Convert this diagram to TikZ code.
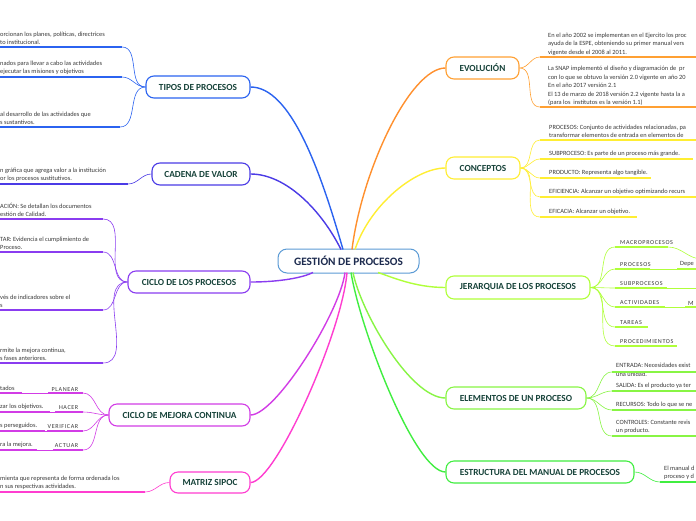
\documentclass[tikz,border=0pt]{standalone}
\usepackage{fontspec}
\setmainfont{Carlito}
\definecolor{cCen}{HTML}{5B9BD5}
\definecolor{cenTxt}{HTML}{1D2B4F}
\definecolor{nodeTxt}{HTML}{17433A}
\definecolor{txt}{HTML}{3A3A3A}
\definecolor{cTipos}{HTML}{2B63F0}
\definecolor{cCad}{HTML}{4B3BE6}
\definecolor{cCiclo}{HTML}{8A3CF0}
\definecolor{cMej}{HTML}{D23CE6}
\definecolor{cMat}{HTML}{FF3DD0}
\definecolor{cEvol}{HTML}{FFA033}
\definecolor{cConc}{HTML}{FFEE33}
\definecolor{cJer}{HTML}{B0FF3A}
\definecolor{cElem}{HTML}{88F544}
\definecolor{cEstr}{HTML}{40EE40}
\tikzset{
 mainnode/.style={draw=#1, line width=1.1pt, rounded corners=8pt, fill=white, minimum height=22pt, inner sep=0pt, font=\fontsize{9.3}{10}\selectfont\bfseries, text=nodeTxt},
 desc/.style={font=\fontsize{6.4}{8.5}\selectfont, text=txt, inner sep=0pt, align=left},
 capslabel/.style={font=\fontsize{6.1}{7}\selectfont\addfontfeatures{LetterSpace=10}, text=txt, inner sep=0pt},
 uline/.style={draw=#1, line width=1.6pt},
 twig/.style={draw=#1, line width=0.6pt},
 trunk/.style={draw=#1, line width=1.4pt},
}
\begin{document}
\begin{tikzpicture}[x=1pt,y=-1pt]
\useasboundingbox (0,0) rectangle (696,520);
\clip (0,0) rectangle (696,520);
\fill[white] (0,0) rectangle (696,520);

% ---------- main nodes ----------
\node[draw=cCen, line width=1pt, rounded corners=9pt, fill=white, minimum width=141pt, minimum height=24pt, inner sep=0pt, font=\fontsize{11.3}{12}\selectfont\bfseries, text=cenTxt] (cen) at (348.5,261) {GESTIÓN DE PROCESOS};
\node[mainnode=cTipos, minimum width=104pt] (tipos) at (198,87) {TIPOS DE PROCESOS};
\node[mainnode=cCad, minimum width=98pt] (cad) at (201,174) {CADENA DE VALOR};
\node[mainnode=cCiclo, minimum width=122pt] (ciclo) at (189,282) {CICLO DE LOS PROCESOS};
\node[mainnode=cMej, minimum width=141pt] (mej) at (179.5,415) {CICLO DE MEJORA CONTINUA};
\node[mainnode=cMat, minimum width=80pt, minimum height=21pt] (mat) at (210,482.5) {MATRIZ SIPOC};
\node[mainnode=cEvol, minimum width=73pt] (evol) at (482.5,68) {EVOLUCIÓN};
\node[mainnode=cConc, minimum width=74pt] (conc) at (483,168) {CONCEPTOS};
\node[mainnode=cJer, minimum width=144pt, minimum height=23pt] (jer) at (518,287.5) {JERARQUIA DE LOS PROCESOS};
\node[mainnode=cElem, minimum width=140pt] (elem) at (516,398) {ELEMENTOS DE UN PROCESO};
\node[mainnode=cEstr, minimum width=188pt] (estr) at (540,472) {ESTRUCTURA DEL MANUAL DE PROCESOS};

% ---------- trunks ----------
\coordinate (sTipos) at (343,249.5);
\coordinate (sCad) at (341,249.5);
\coordinate (sEvol) at (352,249.5);
\coordinate (sConc) at (355,249.5);
\coordinate (sCiclo) at (313,272.5);
\coordinate (sJer) at (378,272.5);
\coordinate (sMej) at (345,272.5);
\coordinate (sMat) at (347,272.5);
\coordinate (sElem) at (353,272.5);
\coordinate (sEstr) at (351,272.5);
\draw[trunk=cTipos] (tipos.east) .. controls +(40,0) and +(-23,-80) .. (sTipos);
\draw[trunk=cCad] (cad.east) .. controls +(35,0) and +(-20,-40) .. (sCad);
\draw[trunk=cEvol!90!red] (evol.west) .. controls +(-35,0) and +(10,-80) .. (sEvol);
\draw[trunk=cConc] (conc.west) .. controls +(-30,0) and +(15,-45) .. (sConc);
\draw[trunk=cCiclo] (ciclo.east) .. controls +(30,0) and +(-10,5) .. (sCiclo);
\draw[trunk=cJer] (jer.west) .. controls +(-30,0) and +(15,5) .. (sJer);
\draw[trunk=cMej] (mej.east) .. controls +(25,0) and +(-5,40) .. (sMej);
\draw[trunk=cMat] (mat.east) .. controls +(25,0) and +(-5,60) .. (sMat);
\draw[trunk=cElem] (elem.west) .. controls +(-35,0) and +(8,40) .. (sElem);
\draw[trunk=cEstr] (estr.west) .. controls +(-30,0) and +(10,60) .. (sEstr);

% ---------- TIPOS DE PROCESOS ----------
\node[desc, anchor=south west] (t1) at (0,45.2) {orcionan los planes, políticas, directrices\\to institucional.};
\coordinate (t1a) at (0,47); \coordinate (t1b) at (122,47);
\node[desc, anchor=south west] (t2) at (0,75.2) {nados para llevar a cabo las actividades\\ejecutar las misiones y objetivos};
\coordinate (t2a) at (0,77); \coordinate (t2b) at (122,77);
\node[desc, anchor=south west] (t3) at (0,125.2) {al desarrollo de las actividades que\\s sustantivos.};
\coordinate (t3a) at (0,127); \coordinate (t3b) at (120,127);
\foreach \i in {1,2,3}{
  \draw[uline=cTipos] (t\i a) -- (t\i b);
  \draw[twig=cTipos] (t\i b) to[out=0,in=180] (tipos.west);
}

% ---------- CADENA DE VALOR ----------
\node[desc, anchor=south west] (c1) at (0,182.2) {n gráfica que agrega valor a la institución\\or los procesos sustitutivos.};
\coordinate (c1a) at (0,184); \coordinate (c1b) at (128,184);
\draw[uline=cCad] (c1a) -- (c1b);
\draw[twig=cCad] (c1b) to[out=0,in=180] (cad.west);

% ---------- CICLO DE LOS PROCESOS ----------
\node[desc, anchor=south west] (p1) at (0,217.2) {ACIÓN: Se detallan los documentos\\estión de Calidad.};
\coordinate (p1a) at (0,219); \coordinate (p1b) at (103,219);
\node[desc, anchor=south west] (p2) at (0,250.2) {TAR: Evidencia el cumplimiento de\\Proceso.};
\coordinate (p2a) at (0,252); \coordinate (p2b) at (103,252);
\node[desc, anchor=south west] (p3) at (0,308.2) {vés de indicadores sobre el\\s};
\coordinate (p3a) at (0,310); \coordinate (p3b) at (103,310);
\node[desc, anchor=south west] (p4) at (0,361.2) {rmite la mejora continua,\\s fases anteriores.};
\coordinate (p4a) at (0,363); \coordinate (p4b) at (103,363);
\foreach \i in {1,2,3,4}{
  \draw[uline=cCiclo] (p\i a) -- (p\i b);
  \draw[twig=cCiclo] (p\i b) to[out=0,in=180] (ciclo.west);
}

% ---------- CICLO DE MEJORA CONTINUA ----------
\node[desc, anchor=south west] (m1d) at (0,391.2) {tados};
\node[capslabel, anchor=south east] (m1l) at (78.5,391.2) {PLANEAR};
\coordinate (m1a) at (0,393); \coordinate (m1b) at (22,393); \coordinate (m1c) at (48,393); \coordinate (m1e) at (83,393);
\node[desc, anchor=south west] (m2d) at (0,410.2) {zar los objetivos.};
\node[capslabel, anchor=south east] (m2l) at (78.5,410.2) {HACER};
\coordinate (m2a) at (0,412); \coordinate (m2b) at (50,412); \coordinate (m2c) at (55,412); \coordinate (m2e) at (83,412);
\node[desc, anchor=south west] (m3d) at (0,429.2) {s perseguidos.};
\node[capslabel, anchor=south east] (m3l) at (78.5,429.2) {VERIFICAR};
\coordinate (m3a) at (0,431); \coordinate (m3b) at (45,431); \coordinate (m3c) at (47,431); \coordinate (m3e) at (83,431);
\node[desc, anchor=south west] (m4d) at (0,448.2) {ra la mejora.};
\node[capslabel, anchor=south east] (m4l) at (78.5,448.2) {ACTUAR};
\coordinate (m4a) at (0,450); \coordinate (m4b) at (37,450); \coordinate (m4c) at (53,450); \coordinate (m4e) at (83,450);
\foreach \i in {1,2,3,4}{
  \draw[uline=cMej] (m\i a) -- (m\i b);
  \draw[twig=cMej] (m\i b) -- (m\i c);
  \draw[uline=cMej] (m\i c) -- (m\i e);
  \draw[twig=cMej] (m\i e) to[out=0,in=180] (mej.west);
}

% ---------- MATRIZ SIPOC ----------
\node[desc, anchor=south west] (s1) at (0,490.2) {mienta que representa de forma ordenada los\\n sus respectivas actividades.};
\coordinate (s1a) at (0,492); \coordinate (s1b) at (145,492);
\draw[uline=cMat] (s1a) -- (s1b);
\draw[twig=cMat] (s1b) to[out=0,in=180] (mat.west);

% ---------- EVOLUCION ----------
\node[desc, anchor=south west] (e1) at (548,55.5) {En el año 2002 se implementan en el Ejercito los proc\\ayuda de la ESPE, obteniendo su primer manual vers\\vigente desde el 2008 al 2011.};
\coordinate (e1a) at (540,57); \coordinate (e1b) at (700,57);
\node[desc, anchor=south west] (e2) at (548,106) {La SNAP implementó el diseño y diagramación de \ pr\\con lo que se obtuvo la versión 2.0 vigente en año 20\\En el año 2017 versión 2.1\\El 13 de marzo de 2018 versión 2.2 vigente hasta la a\\(para los \ institutos es la versión 1.1)};
\coordinate (e2a) at (540,107); \coordinate (e2b) at (700,107);
\foreach \i in {1,2}{
  \draw[uline=cEvol] (e\i a) -- (e\i b);
  \draw[twig=cEvol] (evol.east) to[out=0,in=180] (e\i a);
}

% ---------- CONCEPTOS ----------
\node[desc, anchor=south west] (k1) at (549,138.2) {PROCESOS: Conjunto de actividades relacionadas, pa\\transformar elementos de entrada en elementos de};
\coordinate (k1a) at (540,140); \coordinate (k1b) at (700,140);
\node[desc, anchor=south west] (k2) at (549,157.2) {SUBPROCESO: Es parte de un proceso más grande.};
\coordinate (k2a) at (540,159); \coordinate (k2b) at (693,159);
\node[desc, anchor=south west] (k3) at (549,176.2) {PRODUCTO: Representa algo tangible.};
\coordinate (k3a) at (540,178); \coordinate (k3b) at (651,178);
\node[desc, anchor=south west] (k4) at (549,195.2) {EFICIENCIA: Alcanzar un objetivo optimizando recurs};
\coordinate (k4a) at (540,197); \coordinate (k4b) at (700,197);
\node[desc, anchor=south west] (k5) at (549,215.2) {EFICACIA: Alcanzar un objetivo.};
\coordinate (k5a) at (540,217); \coordinate (k5b) at (637,217);
\foreach \i in {1,...,5}{
  \draw[uline=cConc] (k\i a) -- (k\i b);
  \draw[twig=cConc] (conc.east) to[out=0,in=180] (k\i a);
}

% ---------- JERARQUIA ----------
\node[capslabel, anchor=south west] (j1) at (620,245.2) {MACROPROCESOS};
\coordinate (j1a) at (615,247); \coordinate (j1b) at (668,247); \coordinate (j1c) at (702,259);
\node[capslabel, anchor=south west] (j2) at (620,267.2) {PROCESOS};
\coordinate (j2a) at (615,269); \coordinate (j2b) at (650,269); \coordinate (j2c) at (677,269); \coordinate (j2d) at (700,269);
\node[desc, anchor=south west] (j2x) at (680,267.2) {Depe};
\node[capslabel, anchor=south west] (j3) at (620,286.2) {SUBPROCESOS};
\coordinate (j3a) at (615,288); \coordinate (j3b) at (667,288); \coordinate (j3c) at (700,288);
\node[capslabel, anchor=south west] (j4) at (620,305.2) {ACTIVIDADES};
\coordinate (j4a) at (615,307); \coordinate (j4b) at (665,307); \coordinate (j4c) at (685,307); \coordinate (j4d) at (700,307);
\node[desc, anchor=south west] (j4x) at (688,305.2) {M};
\node[capslabel, anchor=south west] (j5) at (620,325.2) {TAREAS};
\coordinate (j5a) at (615,327); \coordinate (j5b) at (648,327);
\node[capslabel, anchor=south west] (j6) at (620,344.2) {PROCEDIMIENTOS};
\coordinate (j6a) at (615,346); \coordinate (j6b) at (677,346);
\foreach \i in {1,...,6}{
  \draw[uline=cJer] (j\i a) -- (j\i b);
  \draw[twig=cJer] (jer.east) to[out=0,in=180] (j\i a);
}
\draw[twig=cJer] (j1b) to[out=0,in=180] (j1c);
\draw[twig=cJer] (j2b) -- (j2c);
\draw[uline=cJer] (j2c) -- (j2d);
\draw[twig=cJer] (j3b) -- (j3c);
\draw[twig=cJer] (j4b) -- (j4c);
\draw[uline=cJer] (j4c) -- (j4d);

% ---------- ELEMENTOS ----------
\node[desc, anchor=south west] (l1) at (616,376.5) {ENTRADA: Necesidades exist\\una unidad.};
\coordinate (l1a) at (612,372); \coordinate (l1b) at (700,372);
\node[desc, anchor=south west] (l2) at (616,389.2) {SALIDA: Es el producto ya ter};
\coordinate (l2a) at (612,391); \coordinate (l2b) at (700,391);
\node[desc, anchor=south west] (l3) at (616,408.2) {RECURSOS: Todo lo que se ne};
\coordinate (l3a) at (612,410); \coordinate (l3b) at (700,410);
\node[desc, anchor=south west] (l4) at (616,434.2) {CONTROLES: Constante revis\\un producto.};
\coordinate (l4a) at (612,436); \coordinate (l4b) at (700,436);
\foreach \i in {1,...,4}{
  \draw[uline=cElem] (l\i a) -- (l\i b);
  \draw[twig=cElem] (elem.east) to[out=0,in=180] (l\i a);
}

% ---------- ESTRUCTURA ----------
\node[desc, anchor=south west] (r1) at (664,480.2) {El manual d\\proceso y d};
\coordinate (r1a) at (660,482); \coordinate (r1b) at (700,482);
\draw[uline=cEstr] (r1a) -- (r1b);
\draw[twig=cEstr] (estr.east) to[out=0,in=180] (r1a);
\end{tikzpicture}
\end{document}
